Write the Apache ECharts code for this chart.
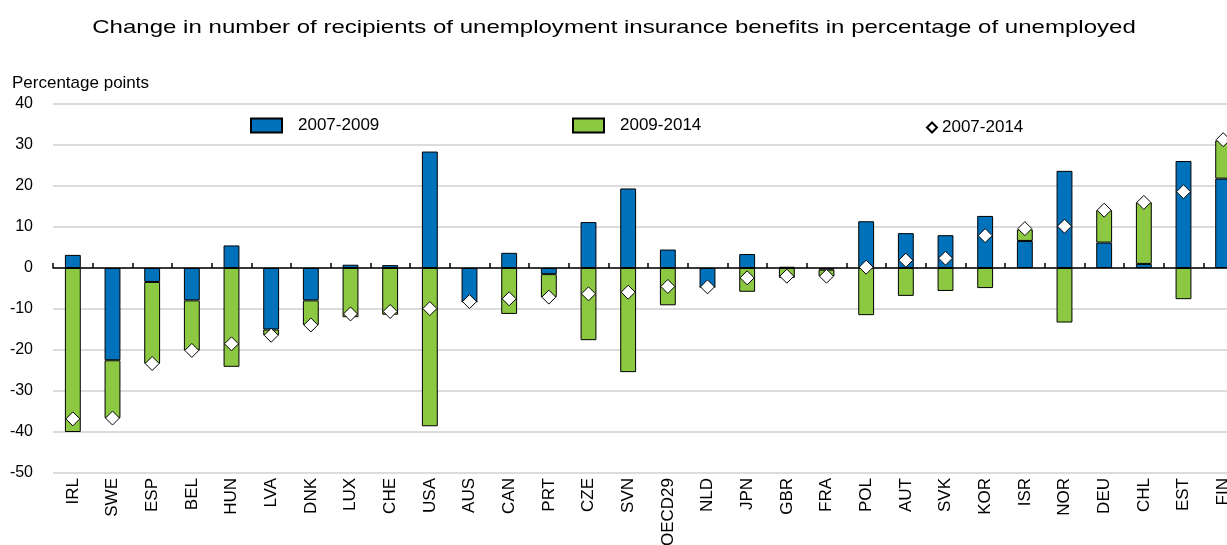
<!DOCTYPE html>
<html>
<head>
<meta charset="utf-8">
<script src="https://cdn.jsdelivr.net/npm/echarts@6/dist/echarts.min.js"></script>
<style>
html,body{margin:0;padding:0;background:#fff;}
#chart{width:1227px;height:545px;}
</style>
</head>
<body>
<div id="chart"></div>
<script>
const categories = ['IRL','SWE','ESP','BEL','HUN','LVA','DNK','LUX','CHE','USA','AUS','CAN','PRT','CZE','SVN','OECD29','NLD','JPN','GBR','FRA','POL','AUT','SVK','KOR','ISR','NOR','DEU','CHL','EST','FIN'];
const change2007_2009 = [3.2,-22.5,-3.4,-7.9,5.5,-15.0,-7.9,0.8,0.7,28.4,-8.2,3.7,-1.5,11.2,19.4,4.5,-4.6,3.4,0.3,-0.4,11.4,8.5,8.0,12.7,6.6,23.7,6.2,1.0,26.1,21.8];
const change2009_2014 = [-40.0,-14.1,-19.9,-12.2,-24.1,-1.4,-6.0,-12.0,-11.4,-38.6,0,-11.2,-5.6,-17.6,-25.4,-9.1,0,-5.8,-2.4,-1.6,-11.5,-6.8,-5.6,-4.9,2.8,-13.3,7.9,15.0,-7.6,9.3];
const change2007_2014 = [-36.8,-36.6,-23.3,-20.1,-18.5,-16.4,-13.9,-11.2,-10.6,-9.9,-8.2,-7.5,-7.1,-6.3,-5.9,-4.5,-4.6,-2.4,-2.0,-2.0,0.2,1.9,2.4,7.9,9.6,10.2,14.1,16.0,18.6,31.3];
const yTicks = {min:-50, max:40, interval:10};
const titleText = 'Change in number of recipients of unemployment insurance benefits in percentage of unemployed';

const FONT = '"Liberation Sans", Arial, sans-serif';
const chart = echarts.init(document.getElementById('chart'), null, {renderer:'canvas'});
const legendCommon = {
  top: 117, padding: 0, itemGap: 0, icon: 'rect',
  textStyle: {fontFamily: FONT, fontSize: 17, color: '#000'}
};
chart.setOption({
  animation: false,
  backgroundColor: '#fff',
  title: [
    {text: 'Percentage points', left: 12, top: 75, padding: 0,
     textStyle: {fontFamily: FONT, fontSize: 17, fontWeight: 'normal', color: '#000'}}
  ],
  graphic: [
    {type: 'text', x: 614, y: 28, scaleX: 1.265, scaleY: 1, silent: true,
     style: {text: titleText, fontFamily: FONT, fontSize: 19, fill: '#000', align: 'center', verticalAlign: 'middle'}}
  ],
  legend: [
    Object.assign({}, legendCommon, {left: 250, data: ['2007-2009'], itemWidth: 31, itemHeight: 14,
      textStyle: Object.assign({}, legendCommon.textStyle, {padding: [0,0,0,11]})}),
    Object.assign({}, legendCommon, {left: 572, data: ['2009-2014'], itemWidth: 31, itemHeight: 14,
      textStyle: Object.assign({}, legendCommon.textStyle, {padding: [0,0,0,11]})}),
    Object.assign({}, legendCommon, {left: 926, top: 119, icon: 'diamond', data: ['2007-2014'], itemWidth: 10, itemHeight: 10,
      textStyle: Object.assign({}, legendCommon.textStyle, {padding: [0,0,0,0]})})
  ],
  grid: {left: 53, width: 1190, top: 104, bottom: 72, containLabel: false, outerBoundsMode: 'none'},
  xAxis: [
    {type: 'category', data: categories, gridIndex: 0, position: 'bottom',
     axisLine: {show: false, onZero: false}, axisTick: {show: false},
     splitLine: {show: false},
     axisLabel: {rotate: 90, margin: 5, interval: 0, fontFamily: FONT, fontSize: 17, color: '#000'}},
    {type: 'category', data: categories, gridIndex: 0, position: 'bottom',
     axisLine: {show: true, onZero: true, lineStyle: {color: '#000', width: 1.5}},
     axisTick: {show: true, inside: true, length: 5, interval: 0, lineStyle: {color: '#000', width: 1.5}},
     axisLabel: {show: false}, splitLine: {show: false}}
  ],
  yAxis: {
    type: 'value', min: yTicks.min, max: yTicks.max, interval: yTicks.interval,
    axisLine: {show: false}, axisTick: {show: false},
    axisLabel: {margin: 20, fontFamily: FONT, fontSize: 16, color: '#000'},
    splitLine: {show: true, lineStyle: {color: '#d0d0d0', width: 1.5}}
  },
  series: [
    {name: '2007-2009', type: 'bar', stack: 'total', xAxisIndex: 0, barWidth: '40%',
     data: change2007_2009,
     itemStyle: {color: '#0072BB', borderColor: '#000', borderWidth: 1}},
    {name: '2009-2014', type: 'bar', stack: 'total', xAxisIndex: 0, barWidth: '40%',
     data: change2009_2014,
     itemStyle: {color: '#8CC841', borderColor: '#000', borderWidth: 1}},
    {name: '2007-2014', type: 'scatter', xAxisIndex: 0, symbol: 'diamond', symbolSize: 14,
     data: change2007_2014, z: 5,
     itemStyle: {color: '#fff', borderColor: '#000', borderWidth: 1, opacity: 1}}
  ]
});
</script>
</body>
</html>
